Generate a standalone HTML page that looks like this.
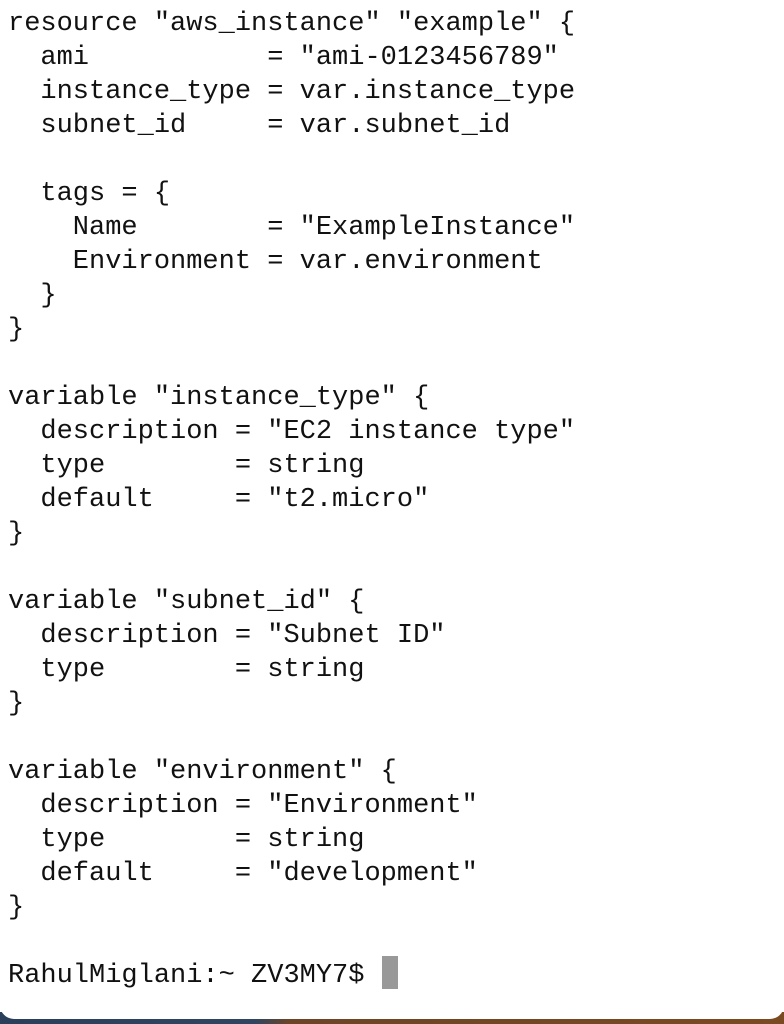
<!DOCTYPE html>
<html><head><style>
html,body{margin:0;padding:0;width:784px;height:1024px;overflow:hidden;background:#fff;}
.bg{position:absolute;left:0;top:1012px;width:784px;height:12px;background:linear-gradient(90deg,#2a3f5a 0,#2f4560 255px,#6b4526 290px,#7a4a22 784px);}
.win{position:absolute;left:0;top:0;width:784px;height:1019px;background:#fff;border-bottom-left-radius:14px;border-bottom-right-radius:14px;}
pre{position:absolute;left:8px;top:7px;margin:0;font-family:"Liberation Mono",monospace;font-size:27px;line-height:34px;color:#111;}
.cur{position:absolute;left:382px;top:956px;width:16px;height:33px;background:#999;}
</style></head><body>
<div class="bg"></div>
<div class="win"></div>
<pre>resource "aws_instance" "example" {
  ami           = "ami-0123456789"
  instance_type = var.instance_type
  subnet_id     = var.subnet_id

  tags = {
    Name        = "ExampleInstance"
    Environment = var.environment
  }
}

variable "instance_type" {
  description = "EC2 instance type"
  type        = string
  default     = "t2.micro"
}

variable "subnet_id" {
  description = "Subnet ID"
  type        = string
}

variable "environment" {
  description = "Environment"
  type        = string
  default     = "development"
}

RahulMiglani:~ ZV3MY7$ </pre>
<div class="cur"></div>
</body></html>
